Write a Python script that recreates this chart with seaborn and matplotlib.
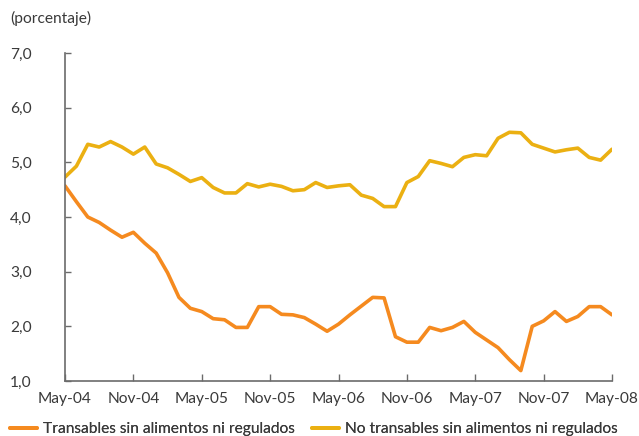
import matplotlib
matplotlib.use("Agg")
import matplotlib.pyplot as plt
import seaborn as sns
import pandas as pd
from matplotlib.lines import Line2D

months = list(range(49))
tick_pos = [0, 6, 12, 18, 24, 30, 36, 42, 48]
tick_labels = ["May-04", "Nov-04", "May-05", "Nov-05", "May-06",
               "Nov-06", "May-07", "Nov-07", "May-08"]

transables = [4.57, 4.28, 4.00, 3.90, 3.76, 3.63, 3.72, 3.52, 3.34, 2.98,
              2.53, 2.33, 2.27, 2.14, 2.12, 1.98, 1.98, 2.36, 2.36, 2.22,
              2.21, 2.16, 2.04, 1.91, 2.04, 2.21, 2.37, 2.53, 2.52, 1.81,
              1.71, 1.71, 1.98, 1.92, 1.98, 2.09, 1.89, 1.75, 1.61, 1.39,
              1.19, 2.00, 2.10, 2.27, 2.09, 2.18, 2.36, 2.36, 2.21]
no_transables = [4.73, 4.93, 5.33, 5.28, 5.38, 5.28, 5.15, 5.28, 4.97, 4.90,
                 4.78, 4.65, 4.72, 4.54, 4.44, 4.44, 4.61, 4.55, 4.60, 4.56,
                 4.48, 4.50, 4.63, 4.54, 4.57, 4.59, 4.40, 4.34, 4.19, 4.19,
                 4.63, 4.74, 5.03, 4.98, 4.92, 5.09, 5.14, 5.12, 5.44, 5.55,
                 5.54, 5.33, 5.26, 5.19, 5.23, 5.26, 5.09, 5.04, 5.24]

name_t = "Transables sin alimentos ni regulados"
name_n = "No transables sin alimentos ni regulados"

df = pd.DataFrame({
    "mes": months * 2,
    "valor": transables + no_transables,
    "serie": [name_t] * len(months) + [name_n] * len(months),
})

sns.set_style("white")
plt.rcParams["font.family"] = ["Lato", "DejaVu Sans"]
text_color = "#3a3a3a"
FS = 11.2

fig = plt.figure(figsize=(6.39, 4.36), dpi=100)
ax = fig.add_axes([65 / 639, 1 - 381 / 436, (612 - 65) / 639, (381 - 53) / 436])

palette = {name_t: "#F58A1F", name_n: "#EBB012"}
sns.lineplot(data=df, x="mes", y="valor", hue="serie", palette=palette,
             linewidth=2.6, ax=ax, legend=False)

ax.set_xlim(0, 48)
ax.set_ylim(1.0, 7.0)
ax.set_xticks(tick_pos)
ax.set_xticklabels(tick_labels)
yt = [1.0, 2.0, 3.0, 4.0, 5.0, 6.0, 7.0]
ax.set_yticks(yt)
ax.set_yticklabels([f"{v:.1f}".replace(".", ",") for v in yt])
ax.set_xlabel("")
ax.set_ylabel("")

for s in ["top", "right"]:
    ax.spines[s].set_visible(False)
for s in ["left", "bottom"]:
    ax.spines[s].set_color("#6b6b6b")
    ax.spines[s].set_linewidth(1.2)

ax.tick_params(axis="y", direction="in", length=4, width=1, color="#6b6b6b",
               labelsize=FS, labelcolor=text_color, pad=0, left=True)
ax.tick_params(axis="x", direction="in", length=5, width=1, color="#6b6b6b",
               labelsize=FS, labelcolor=text_color, pad=8, bottom=True)
for lbl in ax.get_yticklabels():
    lbl.set_horizontalalignment("left")
    lbl.set_x(-55 / 547)

fig.text(10 / 639, 1 - 18 / 436, "(porcentaje)", fontsize=FS,
         color=text_color, va="center", ha="left")

pad_px = 0.4 * FS * 100 / 72
for name, x0 in [(name_t, 10), (name_n, 312)]:
    leg = fig.legend([Line2D([0], [0], color=palette[name], lw=2.8)], [name],
                     loc="center left",
                     bbox_to_anchor=((x0 - pad_px) / 639, 1 - 429 / 436),
                     frameon=False, fontsize=FS, labelcolor=text_color,
                     handlelength=1.75, handletextpad=0.4, borderaxespad=0)
    fig.add_artist(leg)

fig.savefig("out.png", dpi=100)
